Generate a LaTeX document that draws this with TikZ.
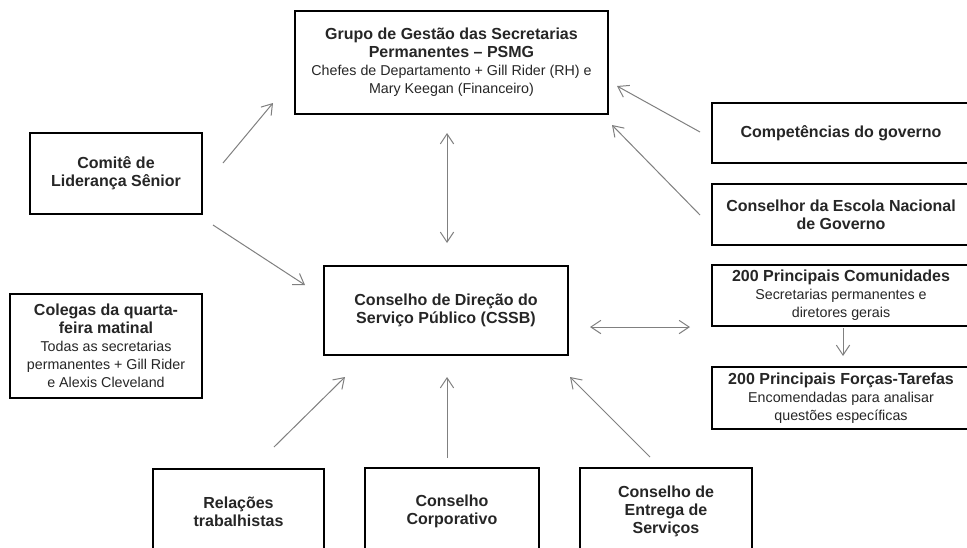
\documentclass[tikz,border=0pt]{standalone}
\usepackage{fontspec}
\setmainfont{Liberation Sans}
\usetikzlibrary{arrows.meta}
\newcommand{\hd}[1]{{\fontsize{12}{13.5}\selectfont\bfseries #1}}
\tikzset{
  box/.style={draw=black, line width=0.9pt, rectangle, align=center, inner sep=0pt,
    font=\fontsize{10.7}{13.5}\selectfont, text=black!85},
  conn/.style={draw=black!50, line width=0.75pt, -{Straight Barb[length=7.5pt,width=10pt]}},
  dconn/.style={draw=black!50, line width=0.75pt, {Straight Barb[length=7.5pt,width=10pt]}-{Straight Barb[length=7.5pt,width=10pt]}},
}
\begin{document}
\begin{tikzpicture}[x=0.75pt,y=-0.75pt]
\useasboundingbox (0,0) rectangle (967,547);
\clip (0,0) rectangle (967,547);
\fill[white] (0,0) rectangle (967,547);

\node[box, minimum width=313*0.75pt, minimum height=103*0.75pt] (psmg) at (451.5,62.5)
  {\hd{Grupo de Gestão das Secretarias}\\\hd{Permanentes – PSMG}\\Chefes de Departamento + Gill Rider (RH) e\\Mary Keegan (Financeiro)};
\node[box, minimum width=258*0.75pt, minimum height=60*0.75pt] (comp) at (841,133)
  {\hd{Competências do governo}};
\node[box, minimum width=258*0.75pt, minimum height=61*0.75pt] (escola) at (841,214.5)
  {\hd{Conselhor da Escola Nacional}\\\hd{de Governo}};
\node[box, minimum width=258*0.75pt, minimum height=61*0.75pt] (comun) at (841,295.5)
  {\hd{200 Principais Comunidades}\\Secretarias permanentes e\\diretores gerais};
\node[box, minimum width=258*0.75pt, minimum height=62*0.75pt] (forcas) at (841,398)
  {\hd{200 Principais Forças-Tarefas}\\Encomendadas para analisar\\questões específicas};
\node[box, minimum width=172*0.75pt, minimum height=81*0.75pt] (comite) at (116,173.5)
  {\hd{Comitê de}\\\hd{Liderança Sênior}};
\node[box, minimum width=192*0.75pt, minimum height=104*0.75pt] (colegas) at (106,346)
  {\hd{Colegas da quarta-}\\\hd{feira matinal}\\Todas as secretarias\\permanentes + Gill Rider\\e Alexis Cleveland};
\node[box, minimum width=244*0.75pt, minimum height=89*0.75pt] (cssb) at (446,310.5)
  {\hd{Conselho de Direção do}\\\hd{Serviço Público (CSSB)}};
\node[box, minimum width=171*0.75pt, minimum height=86*0.75pt] (rel) at (238.5,512)
  {\hd{Relações}\\\hd{trabalhistas}};
\node[box, minimum width=174*0.75pt, minimum height=86*0.75pt] (corp) at (452,511)
  {\hd{Conselho}\\\hd{Corporativo}};
\node[box, minimum width=172*0.75pt, minimum height=86*0.75pt] (entrega) at (666,511)
  {\hd{Conselho de}\\\hd{Entrega de}\\\hd{Serviços}};

% connector end points
\coordinate (comiteA) at (223,163);  \coordinate (psmgA) at (273,103);
\coordinate (comiteB) at (213,225);  \coordinate (cssbA) at (305,285);
\coordinate (psmgB) at (447,133);    \coordinate (cssbB) at (447,243);
\coordinate (compA) at (700,132);    \coordinate (psmgC) at (617,86);
\coordinate (escolaA) at (700,215);  \coordinate (psmgD) at (612,125);
\coordinate (cssbC) at (590,327);    \coordinate (comunA) at (690,327);
\coordinate (comunB) at (843,328);   \coordinate (forcasA) at (843,356);
\coordinate (relA) at (274,447);     \coordinate (cssbD) at (345,377);
\coordinate (corpA) at (447,458);    \coordinate (cssbE) at (447,377);
\coordinate (entregaA) at (650,457); \coordinate (cssbF) at (570,377);

\draw[conn] (comiteA) -- (psmgA);
\draw[conn] (comiteB) -- (cssbA);
\draw[dconn] (psmgB) -- (cssbB);
\draw[conn] (compA) -- (psmgC);
\draw[conn] (escolaA) -- (psmgD);
\draw[dconn] (cssbC) -- (comunA);
\draw[conn] (comunB) -- (forcasA);
\draw[conn] (relA) -- (cssbD);
\draw[conn] (corpA) -- (cssbE);
\draw[conn] (entregaA) -- (cssbF);
\end{tikzpicture}
\end{document}
